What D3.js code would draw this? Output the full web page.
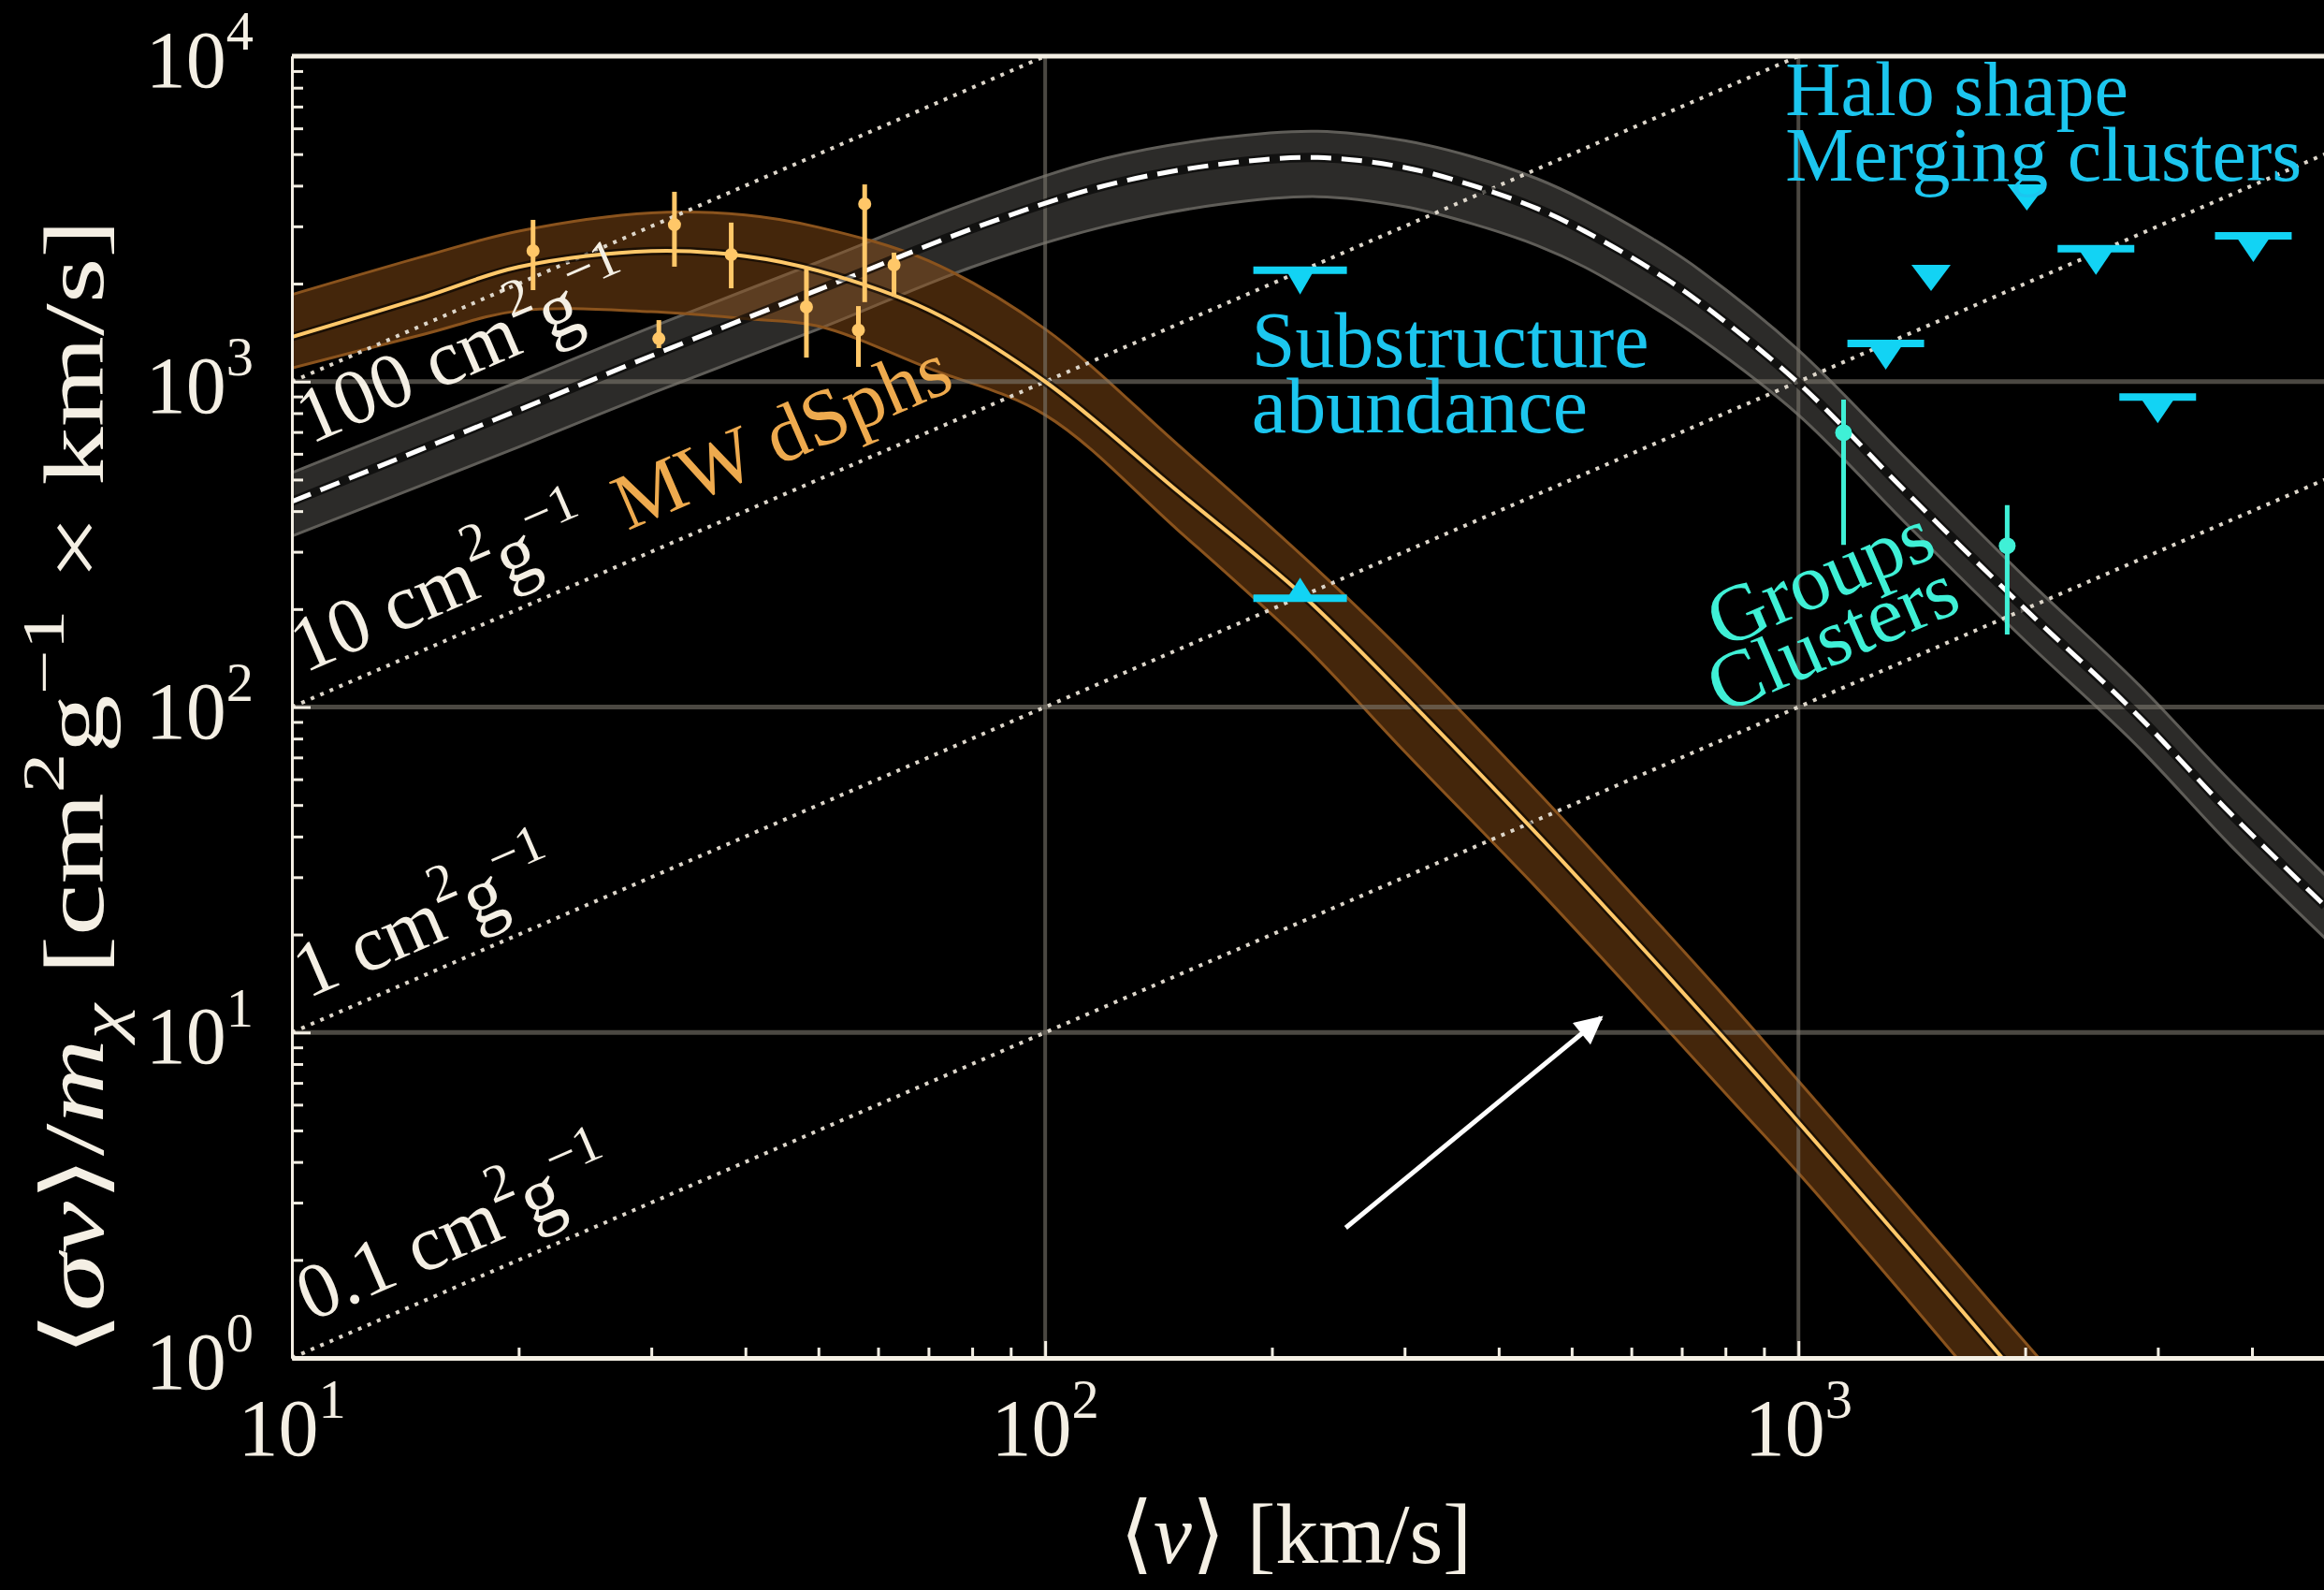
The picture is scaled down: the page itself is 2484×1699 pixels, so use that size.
<!DOCTYPE html>
<html>
<head>
<meta charset="utf-8">
<script src="https://cdn.jsdelivr.net/npm/d3@7"></script>
<style>
  body { margin: 0; background: #000; }
  svg { display: block; }
  text { font-family: "Liberation Serif", "DejaVu Serif", serif; }
</style>
</head>
<body>
<svg id="chart"></svg>
<script>
/* ---------- data ---------- */

// constant cross-section guide lines: sigma/m [cm^2/g], endpoints (v, <sigma v>/m)
var guideNames = ["0.1", "1", "10", "100"];
var guideStart = [[10, 1], [10, 10], [10, 100], [10, 1000]];
var guideEnd   = [[5000, 500], [5000, 5000], [5000, 50000], [5000, 500000]];
var guideLabelAt = [[10.6, 1.29], [10.5, 12.7], [10.4, 127], [10.6, 641]];

// MW dSphs fit (orange band)
var dsphFitV  = [10, 15, 20, 30, 40, 50, 70, 100, 150, 220, 300, 450, 600, 800, 1000, 1400, 1900, 2300];
var dsphFitY  = [1370, 1820, 2250, 2520, 2430, 2190, 1660, 1000, 460, 220, 108, 40.7, 19.8, 9.5, 5.3, 2.17, 0.95, 0.57];
var dsphFitHi = [1850, 2430, 2900, 3300, 3250, 2980, 2350, 1450, 640, 290, 146, 55, 26.7, 12.8, 7.1, 2.9, 1.28, 0.77];
var dsphFitLo = [1100, 1400, 1650, 1640, 1560, 1480, 1100, 790, 350, 156, 73, 27.7, 13.5, 6.5, 3.7, 1.5, 0.65, 0.39];

// combined fit (grey band, dashed centre)
var allFitV  = [10, 20, 30, 50, 80, 120, 170, 230, 300, 370, 450, 520, 640, 740, 1000, 1400, 2000, 2800, 3750, 5000];
var allFitY  = [428, 818, 1200, 1915, 2950, 4000, 4650, 4880, 4550, 4000, 3400, 2900, 2200, 1750, 990, 450, 200, 96, 47, 24.5];
var allFitHi = [525, 1000, 1470, 2330, 3580, 4850, 5600, 5880, 5500, 4900, 4200, 3600, 2750, 2200, 1250, 570, 250, 120, 59, 30.5];
var allFitLo = [335, 630, 920, 1450, 2250, 3000, 3500, 3700, 3450, 3050, 2620, 2250, 1700, 1360, 790, 360, 160, 77, 37.5, 19.5];

// MW dwarf spheroidals, points with error bars
var dsphV  = [20.9, 32.2, 38.3, 48.2, 57.6, 56.5, 63.0, 30.7];
var dsphY  = [2523, 3035, 2455, 1695, 3515, 1440, 2285, 1355];
var dsphLo = [1910, 2255, 1935, 1185, 1755, 1110, 1825, 1267];
var dsphHi = [3140, 3830, 3080, 2220, 4035, 1706, 2490, 1545];

// substructure abundance limits
var subV    = [218, 218];
var subY    = [2200, 216];
var subKind = ["upper", "lower"];

// halo shape / merging clusters upper limits
var haloV   = [2010, 1500, 2483, 4017, 1306, 2999];
var haloY   = [4040, 2285, 2560, 2805, 1310, 897];
var haloBar = [false, false, true, true, true, true];

// groups and clusters
var gcV  = [1148, 1893];
var gcY  = [697, 313];
var gcLo = [315, 167];
var gcHi = [881, 417];

// arrow annotation (tail, tip)
var arrowFrom = [250.6, 2.51];
var arrowTo   = [547, 11.1];

/* ---------- settings ---------- */
var width = 2484,
    height = 1699,
    margin = { top: 60, right: -1, bottom: 248, left: 312 };

var x = d3.scaleLog().domain([10, 5000]).range([margin.left, width - margin.right]);
var y = d3.scaleLog().domain([1, 10000]).range([height - margin.bottom, margin.top]);

var svg = d3.select("#chart").attr("width", width).attr("height", height);
svg.append("rect").attr("width", width).attr("height", height).attr("fill", "#000");

svg.append("clipPath").attr("id", "plot-area")
  .append("rect")
    .attr("x", x.range()[0]).attr("y", y.range()[1])
    .attr("width", x.range()[1] - x.range()[0])
    .attr("height", y.range()[0] - y.range()[1]);

var plot = svg.append("g").attr("clip-path", "url(#plot-area)");

function zipBand(v, c, lo, hi) {
  return v.map(function (d, i) { return { v: d, c: c[i], lo: lo[i], hi: hi[i] }; });
}
var dsphBand = zipBand(dsphFitV, dsphFitY, dsphFitLo, dsphFitHi);
var allBand = zipBand(allFitV, allFitY, allFitLo, allFitHi);

var smooth = d3.curveCatmullRom.alpha(0.5);
var area = d3.area()
  .x(function (d) { return x(d.v); })
  .y0(function (d) { return y(d.lo); })
  .y1(function (d) { return y(d.hi); })
  .curve(smooth);
function lineOf(key) {
  return d3.line()
    .x(function (d) { return x(d.v); })
    .y(function (d) { return y(d[key]); })
    .curve(smooth);
}

/* bands */
plot.append("path").datum(allBand).attr("d", area)
  .attr("fill", "rgb(105,103,98)").attr("fill-opacity", 0.42);
["lo", "hi"].forEach(function (k) {
  plot.append("path").datum(allBand).attr("d", lineOf(k))
    .attr("fill", "none").attr("stroke", "#5f5d58").attr("stroke-width", 3);
});

plot.append("path").datum(dsphBand).attr("d", area)
  .attr("fill", "rgb(150,85,25)").attr("fill-opacity", 0.45);
["lo", "hi"].forEach(function (k) {
  plot.append("path").datum(dsphBand).attr("d", lineOf(k))
    .attr("fill", "none").attr("stroke", "#8a531d").attr("stroke-width", 3);
});

/* grid */
[10, 100, 1000].forEach(function (v) {
  plot.append("line")
    .attr("x1", x.range()[0]).attr("x2", x.range()[1])
    .attr("y1", y(v)).attr("y2", y(v))
    .attr("stroke", "rgb(125,120,110)").attr("stroke-opacity", 0.6).attr("stroke-width", 5);
});
[100, 1000].forEach(function (v) {
  plot.append("line")
    .attr("x1", x(v)).attr("x2", x(v))
    .attr("y1", y.range()[0]).attr("y2", y.range()[1])
    .attr("stroke", "rgb(125,120,110)").attr("stroke-opacity", 0.6).attr("stroke-width", 4);
});

/* constant sigma/m guides */
guideStart.forEach(function (s, i) {
  plot.append("line")
    .attr("x1", x(s[0])).attr("y1", y(s[1]))
    .attr("x2", x(guideEnd[i][0])).attr("y2", y(guideEnd[i][1]))
    .attr("stroke", "#ddd6ca").attr("stroke-width", 4)
    .attr("stroke-dasharray", "4,7");
});

/* centre lines */
plot.append("path").datum(allBand).attr("d", lineOf("c"))
  .attr("fill", "none").attr("stroke", "#000").attr("stroke-opacity", 0.6).attr("stroke-width", 10);
plot.append("path").datum(allBand).attr("d", lineOf("c"))
  .attr("fill", "none").attr("stroke", "#fff").attr("stroke-width", 5)
  .attr("stroke-dasharray", "22,11");

plot.append("path").datum(dsphBand).attr("d", lineOf("c"))
  .attr("fill", "none").attr("stroke", "#000").attr("stroke-opacity", 0.6).attr("stroke-width", 9);
plot.append("path").datum(dsphBand).attr("d", lineOf("c"))
  .attr("fill", "none").attr("stroke", "#ffc86a").attr("stroke-width", 4);

/* dSph points */
var orange = "#ffc768";
dsphV.forEach(function (v, i) {
  plot.append("line")
    .attr("x1", x(v)).attr("x2", x(v))
    .attr("y1", y(dsphLo[i])).attr("y2", y(dsphHi[i]))
    .attr("stroke", orange).attr("stroke-width", 5);
  plot.append("circle").attr("cx", x(v)).attr("cy", y(dsphY[i])).attr("r", 7).attr("fill", orange);
});

/* limits */
var cyan = "#12d3f4";
function tri(cx, cy, w, h) {
  return "M" + (cx - w / 2) + "," + cy + "L" + (cx + w / 2) + "," + cy + "L" + cx + "," + (cy + h) + "Z";
}
subV.forEach(function (v, i) {
  var cx = x(v), cy = y(subY[i]);
  plot.append("line").attr("x1", cx - 50).attr("x2", cx + 50).attr("y1", cy).attr("y2", cy)
    .attr("stroke", cyan).attr("stroke-width", 8);
  plot.append("path").attr("d", subKind[i] === "upper" ? tri(cx, cy, 30, 26) : tri(cx, cy, 28, -22))
    .attr("fill", cyan);
});
haloV.forEach(function (v, i) {
  var cx = x(v), cy = y(haloY[i]);
  if (haloBar[i]) {
    plot.append("line").attr("x1", cx - 41).attr("x2", cx + 41).attr("y1", cy).attr("y2", cy)
      .attr("stroke", cyan).attr("stroke-width", 8);
    plot.append("path").attr("d", tri(cx, cy, 38, 28)).attr("fill", cyan);
  } else {
    plot.append("path").attr("d", tri(cx, cy, 42, 28)).attr("fill", cyan);
  }
});

/* groups and clusters */
var teal = "#3ff0d6";
gcV.forEach(function (v, i) {
  plot.append("line")
    .attr("x1", x(v)).attr("x2", x(v))
    .attr("y1", y(gcLo[i])).attr("y2", y(gcHi[i]))
    .attr("stroke", teal).attr("stroke-width", 5);
  plot.append("circle").attr("cx", x(v)).attr("cy", y(gcY[i])).attr("r", 9).attr("fill", teal);
});

/* ---------- rich text helper ---------- */
function richText(sel, parts, size) {
  var shift = 0;
  sel.attr("font-size", size);
  parts.forEach(function (p) {
    var target = p.k === "sup" ? -0.46 * size : p.k === "sub" ? 0.22 * size : 0;
    var t = sel.append("tspan").text(p.t).attr("dy", target - shift);
    shift = target;
    if (p.k === "sup" || p.k === "sub") t.attr("font-size", 0.68 * size);
    if (p.it) t.attr("font-style", "italic");
  });
  return sel;
}

var angle = Math.atan2(y(100) - y(10), x(100) - x(10)) * 180 / Math.PI;

/* guide labels */
guideLabelAt.forEach(function (p, i) {
  var t = svg.append("text")
    .attr("transform", "translate(" + x(p[0]) + "," + y(p[1]) + ") rotate(" + angle + ")")
    .attr("fill", "#f4efe4");
  richText(t, [{ t: guideNames[i] + " cm" }, { t: "2", k: "sup" }, { t: "g" }, { t: "\u22121", k: "sup" }], 84);
});

/* other labels */
svg.append("text")
  .attr("transform", "translate(" + x(27.9) + "," + y(348) + ") rotate(" + angle + ")")
  .attr("font-size", 85).attr("fill", "#eeaa4e").text("MW dSphs");

var blueText = "#1cc6ef";
svg.append("text").attr("x", x(188)).attr("y", y(1110)).attr("font-size", 84).attr("fill", blueText).text("Substructure");
svg.append("text").attr("x", x(188)).attr("y", y(700)).attr("font-size", 84).attr("fill", blueText).text("abundance");
svg.append("text").attr("x", x(961)).attr("y", y(6600)).attr("font-size", 82).attr("fill", blueText).text("Halo shape");
svg.append("text").attr("x", x(961)).attr("y", y(4150)).attr("font-size", 82).attr("fill", blueText).text("Merging clusters");

svg.append("text")
  .attr("transform", "translate(" + x(791) + "," + y(151) + ") rotate(" + angle + ")")
  .attr("font-size", 86).attr("fill", teal).text("Groups");
svg.append("text")
  .attr("transform", "translate(" + x(791) + "," + y(95) + ") rotate(" + angle + ")")
  .attr("font-size", 86).attr("fill", teal).text("Clusters");

/* arrow */
var defs = svg.append("defs");
defs.append("marker").attr("id", "head")
  .attr("viewBox", "0 0 10 10").attr("refX", 9).attr("refY", 5)
  .attr("markerWidth", 7).attr("markerHeight", 6).attr("markerUnits", "strokeWidth")
  .attr("orient", "auto")
  .append("path").attr("d", "M0,0L10,5L0,10Z").attr("fill", "#fff");
svg.append("line")
  .attr("x1", x(arrowFrom[0])).attr("y1", y(arrowFrom[1]))
  .attr("x2", x(arrowTo[0])).attr("y2", y(arrowTo[1]))
  .attr("stroke", "#fff").attr("stroke-width", 5).attr("marker-end", "url(#head)");

/* ---------- axes ---------- */
function isDecade(v) { return Math.abs(Math.log10(v) - Math.round(Math.log10(v))) < 1e-9; }
var yMinor = y.ticks().filter(function (v) { return !isDecade(v); });
var xMinor = x.ticks().filter(function (v) { return !isDecade(v); });
var yMajor = [1, 10, 100, 1000, 10000];
var xMajor = [10, 100, 1000];

var axisColor = "#f4efe4";
function styleAxis(g, w) {
  g.select(".domain").attr("stroke", axisColor).attr("stroke-width", w);
  g.selectAll(".tick line").attr("stroke", axisColor).attr("stroke-width", 3);
}
svg.append("g").attr("transform", "translate(" + margin.left + ",0)")
  .call(d3.axisLeft(y).tickValues(yMinor).tickSize(-12).tickSizeOuter(0).tickFormat(""))
  .call(styleAxis, 3);
svg.append("g").attr("transform", "translate(" + margin.left + ",0)")
  .call(d3.axisLeft(y).tickValues(yMajor).tickSize(-20).tickSizeOuter(0).tickFormat(""))
  .call(styleAxis, 3);
svg.append("g").attr("transform", "translate(0," + y.range()[0] + ")")
  .call(d3.axisBottom(x).tickValues(xMinor).tickSize(-11).tickSizeOuter(0).tickFormat(""))
  .call(styleAxis, 5);
svg.append("g").attr("transform", "translate(0," + y.range()[0] + ")")
  .call(d3.axisBottom(x).tickValues(xMajor).tickSize(-18).tickSizeOuter(0).tickFormat(""))
  .call(styleAxis, 5);
svg.append("line")
  .attr("x1", x.range()[0]).attr("x2", width)
  .attr("y1", y.range()[1]).attr("y2", y.range()[1])
  .attr("stroke", axisColor).attr("stroke-width", 5);

/* tick labels */
yMajor.forEach(function (v) {
  var t = svg.append("text").attr("x", margin.left - 41).attr("y", y(v) + 33)
    .attr("text-anchor", "end").attr("fill", axisColor);
  richText(t, [{ t: "10" }, { t: String(Math.round(Math.log10(v))), k: "sup" }], 86);
});
xMajor.forEach(function (v) {
  var t = svg.append("text").attr("x", x(v)).attr("y", 1555)
    .attr("text-anchor", "middle").attr("fill", axisColor);
  richText(t, [{ t: "10" }, { t: String(Math.round(Math.log10(v))), k: "sup" }], 86);
});

/* axis titles */
var xt = svg.append("text").attr("x", 1385).attr("y", 1670)
  .attr("text-anchor", "middle").attr("fill", axisColor);
richText(xt, [{ t: "\u27e8" }, { t: "v", it: true }, { t: "\u27e9 [km/s]" }], 92);

var yt = svg.append("text")
  .attr("transform", "translate(110,842) rotate(-90)")
  .attr("text-anchor", "middle").attr("fill", axisColor)
  .attr("textLength", 1216).attr("lengthAdjust", "spacingAndGlyphs");
richText(yt, [
  { t: "\u27e8" }, { t: "\u03c3v", it: true }, { t: "\u27e9/" }, { t: "m", it: true },
  { t: "\u03c7", k: "sub", it: true }, { t: " [cm" }, { t: "2", k: "sup" }, { t: "g" },
  { t: "\u22121", k: "sup" }, { t: " \u00d7 km/s]" }
], 92);
</script>
</body>
</html>
